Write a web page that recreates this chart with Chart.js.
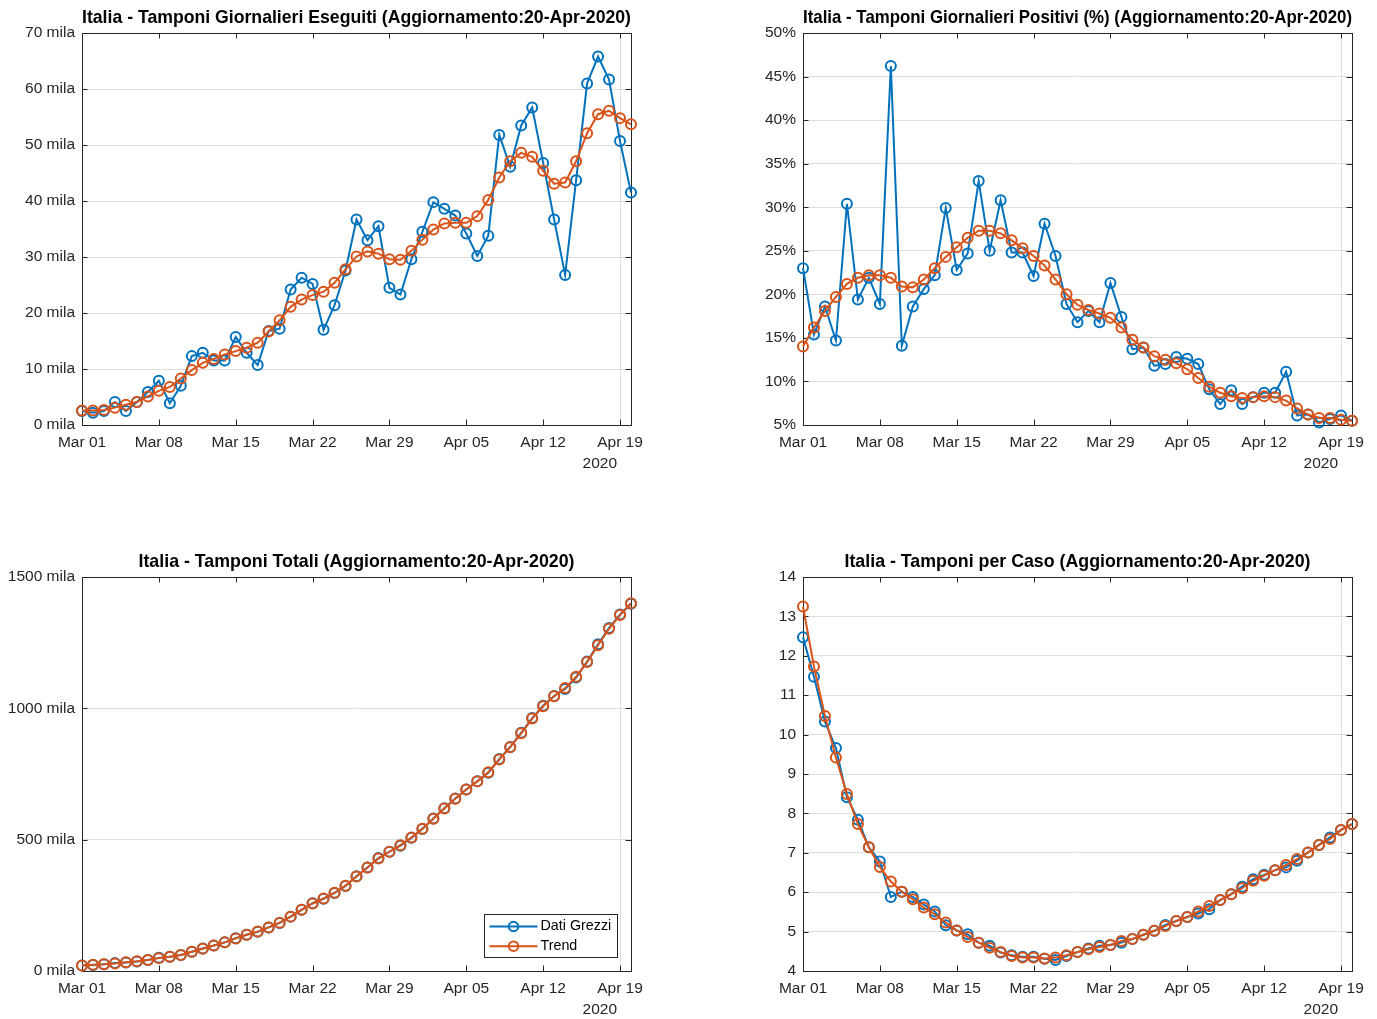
<!DOCTYPE html>
<html>
<head>
<meta charset="utf-8">
<script src="https://cdn.jsdelivr.net/npm/chart.js@4.4.0/dist/chart.umd.min.js"></script>
<style>
html,body{margin:0;padding:0;background:#fff;}
body{width:1377px;height:1019px;position:relative;overflow:hidden;}
canvas{position:absolute;}
</style>
</head>
<body>
<canvas id="c-eseguiti" width="688" height="544" style="left:0;top:0"></canvas>
<canvas id="c-positivi" width="689" height="544" style="left:688px;top:0"></canvas>
<canvas id="c-totali" width="688" height="475" style="left:0;top:544px"></canvas>
<canvas id="c-caso" width="689" height="475" style="left:688px;top:544px"></canvas>
<script>
// ── dates: Mar 01 → Apr 20 2020 ──
const DATES=['Mar 01','Mar 02','Mar 03','Mar 04','Mar 05','Mar 06','Mar 07','Mar 08','Mar 09','Mar 10',
  'Mar 11','Mar 12','Mar 13','Mar 14','Mar 15','Mar 16','Mar 17','Mar 18','Mar 19','Mar 20',
  'Mar 21','Mar 22','Mar 23','Mar 24','Mar 25','Mar 26','Mar 27','Mar 28','Mar 29','Mar 30','Mar 31',
  'Apr 01','Apr 02','Apr 03','Apr 04','Apr 05','Apr 06','Apr 07','Apr 08','Apr 09','Apr 10',
  'Apr 11','Apr 12','Apr 13','Apr 14','Apr 15','Apr 16','Apr 17','Apr 18','Apr 19','Apr 20'];
const YEAR='2020';

// daily tests (thousands)
const DAILY_RAW=[2.5,2.2,2.5,4.1,2.5,4.1,5.9,7.9,3.9,7.0,12.3,12.9,11.5,11.5,15.7,12.9,10.7,16.8,17.2,24.2,
  26.3,25.2,17.0,21.4,27.6,36.7,33.0,35.5,24.5,23.3,29.6,34.5,39.8,38.6,37.4,34.2,30.2,33.8,51.8,46.1,
  53.5,56.7,46.8,36.7,26.8,43.7,61.0,65.8,61.7,50.7,41.5];
const DAILY_TREND=[2.6,2.6,2.7,3.1,3.6,4.1,5.1,6.1,6.8,8.3,9.8,11.1,11.8,12.6,13.2,13.8,14.7,16.7,18.7,21.1,
  22.4,23.2,23.8,25.4,27.8,30.1,31.0,30.6,29.6,29.5,31.1,33.1,34.9,36.0,36.1,36.1,37.3,40.2,44.2,47.1,
  48.6,47.9,45.4,43.1,43.3,47.1,52.1,55.5,56.1,54.8,53.7];

// positive share (%)
const POS_RAW=[23.0,15.4,18.6,14.7,30.4,19.4,21.9,18.9,46.2,14.1,18.6,20.6,22.2,29.9,22.8,24.7,33.0,25.0,30.8,24.8,
  24.8,22.1,28.1,24.4,18.9,16.8,18.1,16.8,21.3,17.4,13.7,13.9,11.8,12.0,12.8,12.6,12.0,9.1,7.4,9.0,
  7.4,8.2,8.7,8.7,11.1,6.1,6.2,5.3,5.7,6.1,5.5];
const POS_TREND=[14.0,16.2,18.1,19.7,21.2,21.9,22.2,22.2,21.9,20.9,20.8,21.7,23.0,24.3,25.4,26.5,27.3,27.3,27.0,26.2,
  25.3,24.4,23.3,21.7,20.0,18.8,18.2,17.8,17.3,16.2,14.8,13.9,12.9,12.5,12.1,11.4,10.4,9.4,8.7,8.3,
  8.1,8.2,8.3,8.2,7.8,6.9,6.2,5.8,5.8,5.6,5.5];

// cumulative tests (thousands)
const TOTAL_RAW=[21,23,26,30,32,36,42,50,54,61,73,86,97,109,125,138,149,166,183,207,
  233,258,275,297,324,361,394,430,454,477,507,541,581,620,657,691,722,755,807,853,
  907,963,1010,1047,1074,1117,1178,1244,1306,1357,1398];
const TOTAL_TREND=[21,24,26,29,33,37,42,49,54,61,73,85,97,109,124,138,150,166,184,207,
  233,257,276,298,325,360,394,428,454,479,508,542,580,619,656,691,722,757,805,852,
  905,961,1008,1046,1077,1120,1176,1240,1303,1355,1400];

// tests per case
const CASE_RAW=[12.47,11.47,10.33,9.66,8.41,7.84,7.14,6.78,5.88,6.01,5.88,5.69,5.51,5.16,5.03,4.93,4.72,4.64,4.47,4.40,
  4.36,4.36,4.31,4.28,4.38,4.48,4.57,4.64,4.66,4.72,4.81,4.92,5.02,5.17,5.27,5.37,5.46,5.57,5.80,5.95,
  6.14,6.33,6.44,6.56,6.63,6.80,7.01,7.20,7.39,7.58,7.73];
const CASE_TREND=[13.25,11.73,10.47,9.42,8.49,7.73,7.14,6.64,6.27,6.01,5.82,5.61,5.44,5.23,5.03,4.86,4.72,4.59,4.48,4.38,
  4.34,4.34,4.32,4.34,4.40,4.48,4.55,4.61,4.66,4.76,4.81,4.92,5.02,5.14,5.27,5.37,5.51,5.65,5.80,5.95,
  6.10,6.29,6.42,6.56,6.69,6.84,7.01,7.20,7.35,7.58,7.73];

const FONT='"Liberation Sans", Arial, Helvetica, sans-serif';
const INK='#262626',GRID='#dedede',BLUE='#0072bd',ORANGE='#d95319';

/* box round the axes + inward ticks on all four sides (matlab look) */
const boxTicks={id:'boxTicks',beforeDatasetsDraw(chart){
  const {ctx,chartArea:a,scales:{x,y}}=chart;const L=5.5;
  ctx.save();ctx.strokeStyle=INK;ctx.lineWidth=1;ctx.beginPath();
  x.ticks.forEach((t,i)=>{if(t.label==null||t.label==='')return;
    const px=Math.round(x.getPixelForTick(i))+.5;
    ctx.moveTo(px,a.bottom);ctx.lineTo(px,a.bottom-L);ctx.moveTo(px,a.top);ctx.lineTo(px,a.top+L);});
  y.ticks.forEach((t,i)=>{const py=Math.round(y.getPixelForTick(i))+.5;
    ctx.moveTo(a.left,py);ctx.lineTo(a.left+L,py);ctx.moveTo(a.right,py);ctx.lineTo(a.right-L,py);});
  ctx.stroke();
  ctx.strokeRect(Math.round(a.left)+.5,Math.round(a.top)+.5,Math.round(a.width),Math.round(a.height));
  ctx.restore();
}};

/* secondary "2020" label under the date ticks */
const yearLabel={id:'yearLabel',afterDraw(chart,args,opts){
  const {ctx,chartArea:a}=chart;
  ctx.save();ctx.font='15.5px '+FONT;ctx.fillStyle=INK;ctx.textAlign='right';ctx.textBaseline='middle';
  ctx.fillText(opts.text,a.right-14,a.bottom+39);ctx.restore();
}};

/* legend box inside the plot, lower right */
const boxLegend={id:'boxLegend',afterDraw(chart,args,opts){
  if(!opts.display)return;
  const {ctx,chartArea:a}=chart,items=chart.data.datasets;
  ctx.save();ctx.font='14.3px '+FONT;
  const tw=Math.max(...items.map(d=>ctx.measureText(d.label).width));
  const w=Math.round(56+tw+6),h=43;
  const x0=Math.round(a.right-14-w)+.5,y0=Math.round(a.bottom-14-h)+.5;
  ctx.fillStyle='#fff';ctx.fillRect(x0,y0,w,h);
  ctx.strokeStyle=INK;ctx.lineWidth=1;ctx.strokeRect(x0,y0,w,h);
  items.forEach((d,i)=>{
    const cy=y0+12+i*19.7;
    ctx.strokeStyle=d.borderColor;ctx.lineWidth=2;
    ctx.beginPath();ctx.moveTo(x0+5,cy);ctx.lineTo(x0+53,cy);ctx.stroke();
    ctx.lineWidth=2;ctx.beginPath();ctx.arc(x0+29,cy,4.8,0,Math.PI*2);ctx.stroke();
    ctx.fillStyle='#000';ctx.textBaseline='middle';ctx.textAlign='left';ctx.fillText(d.label,x0+56,cy);
  });
  ctx.restore();
}};

const LINE={borderWidth:2,tension:0,pointRadius:5,pointBorderWidth:2,pointBackgroundColor:'rgba(0,0,0,0)',clip:false};

function plot(id,o){
  return new Chart(document.getElementById(id),{
    type:'line',
    data:{labels:DATES,datasets:[
      {label:'Dati Grezzi',data:o.raw,borderColor:BLUE,pointBorderColor:BLUE,order:1,...LINE},
      {label:'Trend',data:o.trend,borderColor:ORANGE,pointBorderColor:ORANGE,order:0,...LINE}]},
    options:{responsive:false,animation:false,events:[],
      layout:{padding:{left:0,right:o.padRight,top:0,bottom:0}},
      plugins:{legend:{display:false},tooltip:{enabled:false},
        title:{display:true,text:o.title,fullSize:false,color:'#000',font:{family:FONT,size:17.8,weight:'bold'},padding:{top:7.3,bottom:4.35}},
        yearLabel:{text:YEAR},boxLegend:{display:!!o.legend}},
      scales:{
        x:{type:'category',offset:false,border:{display:false},
          grid:{drawTicks:false,offset:false,color:c=>c.index%7===0?GRID:'rgba(0,0,0,0)'},
          ticks:{autoSkip:false,maxRotation:0,padding:8,color:INK,font:{family:FONT,size:15.5},
            callback:(v,i)=>i%7===0?DATES[i]:null},
          afterFit:s=>{s.height=o.xHeight;}},
        y:{min:o.min,max:o.max,border:{display:false},grid:{drawTicks:false,color:GRID},
          ticks:{stepSize:o.step,padding:7,color:INK,font:{family:FONT,size:15.5},callback:o.fmt},
          afterFit:s=>{s.width=o.yWidth;}}
      }},
    plugins:[boxTicks,yearLabel,boxLegend]
  });
}

const mila=v=>v+' mila';
plot('c-eseguiti',{title:'Italia - Tamponi Giornalieri Eseguiti (Aggiornamento:20-Apr-2020)',raw:DAILY_RAW,trend:DAILY_TREND,
  min:0,max:70,step:10,fmt:mila,yWidth:82,padRight:57,xHeight:119});
plot('c-positivi',{title:'Italia - Tamponi Giornalieri Positivi (%) (Aggiornamento:20-Apr-2020)',raw:POS_RAW,trend:POS_TREND,
  min:5,max:50,step:5,fmt:v=>v+'%',yWidth:115,padRight:25,xHeight:119});
plot('c-totali',{title:'Italia - Tamponi Totali (Aggiornamento:20-Apr-2020)',raw:TOTAL_RAW,trend:TOTAL_TREND,
  min:0,max:1500,step:500,fmt:mila,yWidth:82,padRight:57,xHeight:48,legend:true});
plot('c-caso',{title:'Italia - Tamponi per Caso (Aggiornamento:20-Apr-2020)',raw:CASE_RAW,trend:CASE_TREND,
  min:4,max:14,step:1,fmt:v=>v,yWidth:115,padRight:25,xHeight:48});
</script>
</body>
</html>
